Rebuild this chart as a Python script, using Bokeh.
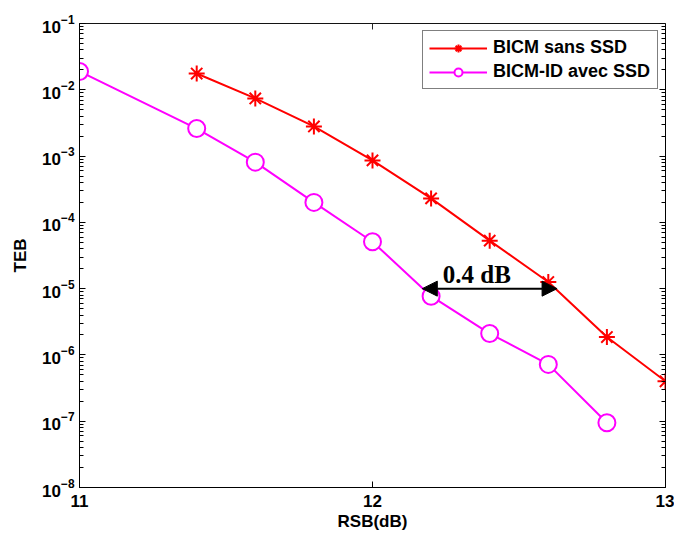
from bokeh.plotting import figure
from bokeh.models import (LinearAxis, LogAxis, FixedTicker, Arrow, NormalHead,
                          Label, Legend, LegendItem, LogTickFormatter,
                          CustomJSTickFormatter)
from bokeh.embed import file_html
from bokeh.resources import INLINE

# ---- data ----
snr_sans = [11.4, 11.6, 11.8, 12.0, 12.2, 12.4, 12.6, 12.8, 13.0]
teb_sans = [1.76e-2, 7.4e-3, 2.8e-3, 8.6e-4, 2.3e-4, 5.3e-5, 1.26e-5, 1.86e-6, 4.0e-7]

snr_avec = [11.0, 11.4, 11.6, 11.8, 12.0, 12.2, 12.4, 12.6, 12.8]
teb_avec = [1.89e-2, 2.6e-3, 8.1e-4, 2.0e-4, 5.1e-5, 7.7e-6, 2.1e-6, 7.2e-7, 9.5e-8]

x_ticks = [11, 12, 13]
y_ticks = [1e-8, 1e-7, 1e-6, 1e-5, 1e-4, 1e-3, 1e-2, 1e-1]

label_sans = "BICM sans SSD"
label_avec = "BICM-ID avec SSD"
gap_text = "0.4 dB"
gap_x = [12.17, 12.63]
gap_y = 1e-5
gap_label_x = 12.24

FONT = "Liberation Sans"

y_minor = [m * t for t in y_ticks[:-1] for m in range(2, 10)]

p = figure(width=674, height=540,
           x_range=(11, 13), y_range=(1e-8, 1e-1), y_axis_type="log",
           output_backend="svg", toolbar_location=None,
           min_border_left=79, min_border_top=23, min_border_right=9,
           min_border_bottom=53, background_fill_color="white",
           border_fill_color="white")
p.grid.visible = False
p.outline_line_color = "black"

p.xaxis.ticker = FixedTicker(ticks=x_ticks)
p.yaxis.ticker = FixedTicker(ticks=y_ticks, minor_ticks=y_minor)
p.yaxis.formatter = LogTickFormatter()
p.xaxis.axis_label = "RSB(dB)"
p.yaxis.axis_label = "TEB"

for ax in p.xaxis + p.yaxis:
    ax.major_label_text_font = FONT
    ax.major_label_text_font_style = "bold"
    ax.major_label_text_font_size = "17px"
    ax.major_label_text_color = "black"
    ax.axis_label_text_font = FONT
    ax.axis_label_text_font_style = "bold"
    ax.axis_label_text_font_size = "17px"
    ax.axis_label_text_color = "black"
    ax.major_tick_in = 6
    ax.major_tick_out = 0
    ax.minor_tick_in = 4
    ax.minor_tick_out = 0
    ax.axis_line_color = "black"
    ax.major_tick_line_color = "black"
    ax.minor_tick_line_color = "black"
    ax.major_label_standoff = 5

p.xaxis.major_label_standoff = 7
p.xaxis.axis_label_standoff = 2
p.yaxis.axis_label_standoff = 9

top = LinearAxis(ticker=FixedTicker(ticks=x_ticks), fixed_location=1e-1,
                 formatter=CustomJSTickFormatter(code="return ''"),
                 major_label_text_font_size="1px", major_label_text_color=None,
                 major_tick_in=6, major_tick_out=0, minor_tick_in=0, minor_tick_out=0,
                 major_label_standoff=0, axis_line_color="#262626",
                 major_tick_line_color="#262626")
right = LogAxis(ticker=FixedTicker(ticks=y_ticks, minor_ticks=y_minor), fixed_location=13,
                formatter=CustomJSTickFormatter(code="return ''"),
                major_label_text_font_size="1px", major_label_text_color=None,
                major_tick_in=6, major_tick_out=0,
                minor_tick_in=4, minor_tick_out=0, major_label_standoff=0,
                axis_line_color="black")
p.add_layout(top, "above")
p.add_layout(right, "right")

RED = "#ff0000"
MAG = "#ff00ff"

l1 = p.line(snr_sans, teb_sans, line_color=RED, line_width=2)
m1 = p.scatter(snr_sans, teb_sans, marker="asterisk", size=16, line_color=RED, line_width=2)
l2 = p.line(snr_avec, teb_avec, line_color=MAG, line_width=2)
m2 = p.scatter(snr_avec, teb_avec, marker="circle", size=17, line_color=MAG,
               fill_color="white", line_width=2)

arrow = Arrow(x_start=gap_x[0], y_start=gap_y, x_end=gap_x[1], y_end=gap_y,
              line_color="black", line_width=2,
              start=NormalHead(size=15, fill_color="black", line_color="black"),
              end=NormalHead(size=15, fill_color="black", line_color="black"))
p.add_layout(arrow)
p.add_layout(Label(x=gap_label_x, y=gap_y, y_offset=1, text=gap_text,
                   text_font="Liberation Serif", text_font_style="bold",
                   text_font_size="25px", text_color="black",
                   text_baseline="bottom"))

legend = Legend(items=[LegendItem(label=label_sans, renderers=[l1, m1]),
                       LegendItem(label=label_avec, renderers=[l2, m2])],
                location="top_right", margin=7, padding=6, spacing=3,
                glyph_width=58, glyph_height=20, label_standoff=6, label_width=158,
                label_text_font=FONT, label_text_font_style="bold",
                label_text_font_size="18px", label_text_color="black",
                border_line_color="black", border_line_width=1,
                background_fill_alpha=1.0)
p.add_layout(legend)

open("out.html", "w").write(file_html(p, INLINE))
